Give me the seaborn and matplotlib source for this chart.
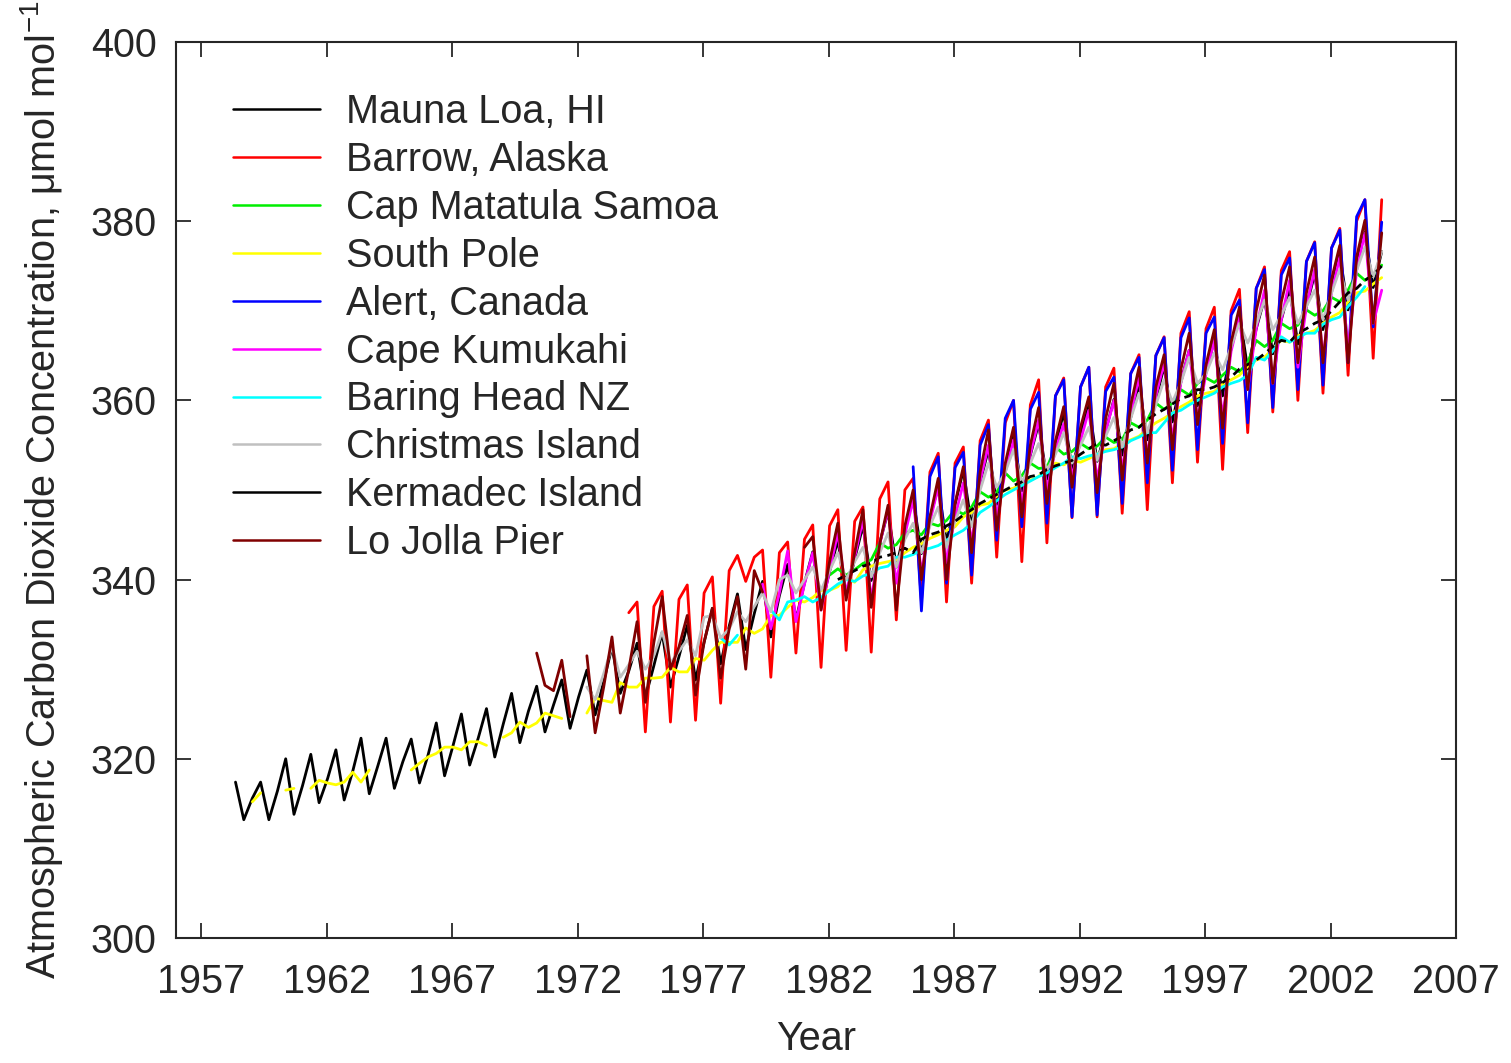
import numpy as np
import pandas as pd
import seaborn as sns
import matplotlib
matplotlib.use('Agg')
import matplotlib.pyplot as plt
from matplotlib.lines import Line2D

nan = np.nan

# monthly CO2: three samples per year (Jan, May, Sep),
# the final value is January of the last year
sample_months = [0.04, 0.37, 0.70]

mauna_loa_start = 1958
mauna_loa = [
    nan, 317.4, 313.2, 315.6, 317.4, 313.2, 316.4, 320.0, 313.8, 317.0, 320.5, 315.1,
    317.8, 321.0, 315.4, 318.6, 322.3, 316.1, 319.2, 322.3, 316.7, 319.7, 322.2, 317.3,
    320.4, 324.0, 318.1, 321.5, 325.0, 319.3, 322.3, 325.6, 320.2, 323.9, 327.3, 321.8,
    325.3, 328.1, 323.0, 326.0, 328.8, 323.4, 326.9, 329.9, 324.9, 328.6, 332.5, 327.3,
    329.8, 332.9, 326.8, 330.4, 334.1, 328.0, 331.4, 334.9, 328.8, 333.0, 336.8, 330.6,
    334.8, 338.4, 332.2, 336.2, 339.8, 333.6, 338.2, 341.7, 335.5, 339.6, 343.1, 336.9,
    340.9, 344.4, 338.2, 342.3, 346.0, 339.9, 344.1, 347.6, 341.4, 345.6, 349.1, 342.9,
    346.9, 350.4, 344.2, 348.4, 352.2, 346.0, 350.9, 354.5, 348.4, 352.6, 356.1, 349.9,
    353.9, 357.4, 351.2, 355.1, 358.6, 352.4, 356.2, 359.4, 353.2, 356.6, 360.1, 353.9,
    358.1, 361.8, 355.6, 360.1, 363.8, 357.6, 362.1, 365.6, 359.4, 363.2, 366.7, 360.5,
    365.8, 369.7, 363.5, 368.0, 371.4, 365.2, 369.0, 372.5, 366.3, 370.5, 374.1, 367.9,
    372.6, 376.3, 370.1, 375.1, 378.8, 372.6, 376.6,
]

barrow_start = 1974
barrow = [
    336.3, 337.5, 323.0, 337.0, 338.7, 324.1, 337.8, 339.4, 324.3, 338.5, 340.3, 326.2,
    341.0, 342.7, 339.8, 342.5, 343.3, 329.1, 343.0, 344.2, 331.8, 344.5, 346.1, 330.2,
    346.0, 347.8, 332.1, 346.5, 348.1, 331.9, 349.0, 350.9, 335.5, 350.0, 351.3, 337.5,
    352.0, 354.1, 337.5, 353.0, 354.8, 339.6, 355.5, 357.8, 342.5, 357.5, 360.0, 342.0,
    359.5, 362.3, 344.1, 360.5, 362.5, 346.9, 361.5, 363.7, 347.0, 361.5, 363.6, 347.4,
    363.0, 365.1, 347.8, 365.0, 367.1, 350.8, 367.5, 369.9, 353.1, 368.0, 370.4, 352.3,
    370.0, 372.4, 356.4, 372.5, 374.9, 358.7, 374.5, 376.6, 360.0, 375.5, 377.7, 360.8,
    377.0, 379.2, 362.8, 380.0, 382.4, 364.7, 382.4,
]

samoa_start = 1982
samoa = [
    340.5, 341.2, 340.5, 341.1, 341.8, 342.2, 344.1, 343.5, 343.9, 345.2, 345.5, 345.0,
    346.3, 346.0, 346.6, 347.8, 347.3, 348.1, 349.8, 349.2, 349.7, 351.9, 351.0, 351.6,
    353.0, 352.4, 352.5, 354.8, 354.0, 354.3, 355.2, 354.6, 354.9, 355.9, 355.3, 355.6,
    357.5, 357.0, 357.8, 359.7, 359.0, 359.7, 361.2, 360.6, 361.9, 362.5, 362.0, 362.8,
    363.7, 363.2, 364.2, 366.7, 366.0, 366.7, 368.6, 368.0, 368.4, 370.1, 369.5, 370.0,
    371.5, 371.0, 372.3, 374.2, 373.4, 374.0, 375.1,
]

south_pole_start = 1959
south_pole = [
    315.2, 316.2, nan, nan, 316.5, 316.7, nan, 316.7, 317.6, 317.3, 317.1, 317.4,
    318.5, 317.4, 318.75, nan, nan, nan, nan, 318.75, 319.5, 320.2, 320.6, 321.3,
    321.3, 321.0, 321.9, 321.9, 321.5, nan, 322.4, 322.9, 324.1, 323.5, 324.0, 325.1,
    324.8, 324.5, nan, nan, 325.1, 326.8, 326.5, 326.3, 328.5, 328.0, 328.0, 329.0,
    329.0, 329.1, 330.2, 329.7, 329.7, 331.2, 331.0, 332.1, 333.0, 333.0, 333.0, 334.6,
    334.0, 334.5, 336.0, 336.0, 336.9, 337.7, 337.5, 338.0, 338.8, 338.8, 339.2, 340.3,
    339.7, 341.1, 341.5, 341.8, 342.0, 342.2, 343.0, 343.6, 344.0, 344.6, 345.0, 345.5,
    345.9, 347.0, 347.5, 348.3, 348.5, 349.3, 350.0, 350.2, 350.8, 351.1, 351.5, 352.5,
    353.0, 352.8, 353.3, 353.1, 353.5, 354.0, 354.5, 354.6, 355.2, 355.6, 356.0, 356.8,
    357.5, 358.0, 358.6, 359.3, 359.8, 360.5, 360.8, 361.0, 361.8, 362.3, 362.8, 363.8,
    364.5, 364.8, 365.8, 366.7, 366.5, 367.2, 367.5, 367.8, 368.6, 369.3, 369.8, 371.0,
    372.0, 372.2, 373.0, 373.7,
]

alert_start = 1985
alert = [
    nan, 352.6, 336.5, 351.5, 353.7, 339.6, 352.5, 354.2, 340.5, 355.0, 357.3, 344.4,
    358.0, 360.0, 345.9, 359.0, 360.9, 346.3, 360.5, 362.3, 347.0, 361.5, 363.7, 347.2,
    361.0, 362.6, 348.5, 363.0, 364.8, 350.8, 365.0, 367.0, 352.2, 367.0, 369.2, 354.5,
    367.5, 369.3, 355.2, 369.5, 371.2, 357.5, 372.5, 374.6, 359.2, 374.0, 375.9, 361.2,
    375.5, 377.6, 361.7, 377.0, 379.0, 364.2, 380.5, 382.4, 368.2, 379.9,
]

kumukahi_start = 1979
kumukahi = [
    nan, 339.5, 334.5, 338.5, 343.2, 335.3, 339.5, 343.0, 336.6, 341.0, 345.2, 338.5,
    342.5, 346.7, 337.7, 344.0, 347.8, 339.6, 345.0, 348.9, 340.7, 346.5, 350.3, 341.9,
    347.0, 350.8, 344.1, 351.0, 355.0, 347.0, 352.0, 355.6, 348.5, 354.0, 357.8, 350.0,
    354.5, 357.4, 351.5, 355.5, 358.9, 351.1, 356.5, 360.0, 352.2, 358.5, 362.6, 353.7,
    360.5, 364.2, 355.6, 362.0, 365.6, 357.8, 363.0, 366.7, 358.1, 365.5, 369.3, 361.2,
    368.0, 372.3, 361.9, 369.0, 373.4, 363.7, 370.5, 374.6, 364.8, 372.0, 376.0, 365.6,
    374.5, 378.7, 368.6, 372.3,
]

baring_head_start = 1977
baring_head = [
    nan, nan, 333.5, 332.7, 333.8, nan, nan, nan, 336.6, 335.5, 337.5, 337.7,
    338.1, 337.5, 338.0, 338.8, 339.5, 340.0, 339.8, 340.4, 340.7, 341.3, 341.5, 342.5,
    342.5, 342.8, 343.3, 343.5, 343.8, 344.4, 345.0, 345.5, 346.3, 347.5, 348.1, 348.8,
    349.5, 350.0, 350.5, 351.0, 351.5, 351.9, 352.5, 353.0, 353.7, 353.5, 353.8, 354.0,
    354.3, 354.5, 354.8, 355.5, 355.9, 356.4, 356.4, 357.5, 358.6, 358.9, 359.5, 360.0,
    360.4, 360.8, 361.5, 361.9, 362.2, 362.8, 364.8, 364.5, 365.5, 367.1, 366.5, 367.0,
    367.5, 367.5, 368.5, 369.0, 369.3, 370.5, 371.5, 372.7, nan,
]

christmas_start = 1972
christmas = [
    nan, 328.0, 326.6, 329.5, 332.5, 329.1, 330.5, 332.0, 330.0, 331.5, 334.2, 330.7,
    332.0, 333.3, 331.5, 335.8, 336.0, 333.5, 334.5, 336.4, 335.3, 337.0, 338.5, 336.4,
    340.0, 340.5, 338.5, 340.0, 341.4, 338.8, 341.0, 343.0, 340.0, 342.0, 343.6, 340.3,
    343.0, 345.2, 341.4, 344.5, 346.3, 343.0, 346.0, 348.1, 343.6, 346.5, 348.9, 345.9,
    350.0, 353.0, 350.3, 352.0, 354.5, 350.8, 353.0, 355.2, 352.2, 354.0, 356.4, 353.0,
    355.0, 357.0, 353.3, 356.0, 358.1, 354.8, 358.0, 360.8, 356.4, 359.5, 362.3, 359.8,
    362.0, 364.8, 361.9, 363.0, 365.3, 363.4, 366.0, 368.6, 366.4, 368.5, 371.2, 367.9,
    369.5, 371.5, 368.6, 370.5, 372.3, 369.0, 372.0, 374.6, 371.2, 374.5, 377.1, 373.8,
    376.6,
]

kermadec_start = 1982
kermadec = [
    nan, 340.0, 340.5, 341.0, 341.5, 341.8, 342.5, 342.7, 343.0, 343.5, 343.0, 344.5,
    345.0, 345.3, 346.0, 346.5, 347.2, 347.8, 348.5, 349.0, 349.5, 350.0, 350.5, 350.9,
    351.5, 351.7, 352.3, 352.7, 353.0, 353.3, 354.0, 354.6, 355.2, 355.0, 355.5, 356.0,
    356.7, 357.0, 357.8, 358.5, 359.0, 359.6, 360.2, 360.5, 361.2, 361.2, 361.5, 362.0,
    362.6, 363.5, 364.0, 364.5, 365.2, 366.0, 366.7, 366.5, 367.5, 368.0, 368.6, 369.0,
    370.0, 371.0, 372.0, 372.5, 373.4, 374.0, 375.0,
]

la_jolla_start = 1970
la_jolla = [
    nan, 331.8, 328.2, 327.6, 331.0, 324.7, nan, 331.5, 322.9, 328.0, 333.6, 325.1,
    330.0, 335.3, 326.3, 333.0, 338.1, 330.0, 332.5, 336.0, 327.1, 333.0, 336.8, 329.0,
    334.5, 338.1, 330.0, 341.0, 338.6, nan, nan, nan, nan, 343.6, 344.8, 336.6,
    342.0, 346.3, 337.7, 343.0, 347.8, 336.9, 344.0, 348.3, 336.6, 346.0, 350.0, 340.0,
    347.0, 351.3, 340.0, 348.5, 352.6, 343.0, 352.0, 356.7, 345.5, 353.0, 357.0, 347.0,
    355.0, 359.2, 348.5, 355.5, 359.3, 350.3, 357.0, 360.4, 349.7, 358.0, 361.9, 351.1,
    359.5, 363.7, 353.0, 361.5, 365.1, 354.5, 363.5, 367.5, 357.3, 364.0, 367.9, 356.9,
    366.5, 370.4, 361.2, 370.0, 374.0, 361.9, 371.0, 374.9, 364.2, 372.0, 376.0, 364.2,
    373.5, 377.3, 364.2, 376.0, 380.1, 368.6, 378.7,
]

stations = [
    ('Mauna Loa, HI', mauna_loa_start, mauna_loa, '#000000'),
    ('Barrow, Alaska', barrow_start, barrow, '#ff0000'),
    ('Cap Matatula Samoa', samoa_start, samoa, '#00ee00'),
    ('South Pole', south_pole_start, south_pole, '#ffff00'),
    ('Alert, Canada', alert_start, alert, '#0000ff'),
    ('Cape Kumukahi', kumukahi_start, kumukahi, '#ff00ff'),
    ('Baring Head NZ', baring_head_start, baring_head, '#00ffff'),
    ('Christmas Island', christmas_start, christmas, '#c0c0c0'),
    ('Kermadec Island', kermadec_start, kermadec, '#000000'),
    ('Lo Jolla Pier', la_jolla_start, la_jolla, '#800000'),
]

# long table; a new segment starts after every gap so lines break there
rows = []
for name, start, values, color in stations:
    seg = 0
    for i, v in enumerate(values):
        if np.isnan(v):
            seg += 1
            continue
        t = start + i // 3 + sample_months[i % 3]
        rows.append((name, seg, t, v))
df = pd.DataFrame(rows, columns=['station', 'seg', 'year', 'co2'])

sns.set_style('ticks')
plt.rcParams['font.family'] = ['Liberation Sans', 'DejaVu Sans']
plt.rcParams['mathtext.fontset'] = 'custom'
plt.rcParams['mathtext.rm'] = 'Liberation Sans'
plt.rcParams['mathtext.it'] = 'Liberation Sans'

fig = plt.figure(figsize=(15.11, 10.63), dpi=100)
ax = fig.add_axes([0.1165, 0.1176, 0.8471, 0.8429])

handles = []
for name, start, values, color in stations:
    sub = df[df['station'] == name]
    ls = (0, (3, 2)) if name == 'Kermadec Island' else '-'
    sns.lineplot(data=sub, x='year', y='co2', units='seg', estimator=None,
                 color=color, lw=2.0, linestyle=ls, ax=ax, legend=False)
    handles.append(Line2D([], [], color=color, lw=1.8))

ax.set_xlim(1956, 2007)
ax.set_ylim(300, 400)
ax.set_xticks(range(1957, 2008, 5))
ax.set_yticks(range(300, 401, 20))
ax.tick_params(direction='in', length=11, width=1.3, top=True, right=True,
               labelsize=28.5)
ax.tick_params(axis='x', pad=18)
ax.tick_params(axis='y', pad=14)
for s in ax.spines.values():
    s.set_linewidth(1.5)

ax.set_xlabel('Year', fontsize=28.5, labelpad=14)
ax.set_ylabel('Atmospheric Carbon Dioxide Concentration, μmol mol$^{-1}$',
              fontsize=28.5, labelpad=18)

ax.legend(handles, [s[0] for s in stations], loc='upper left',
          bbox_to_anchor=(0.0445, 0.943), frameon=False, fontsize=28.5,
          handlelength=2.2, handletextpad=0.65, labelspacing=0.25,
          borderpad=0, borderaxespad=0)

fig.savefig('out.png', dpi=100)
